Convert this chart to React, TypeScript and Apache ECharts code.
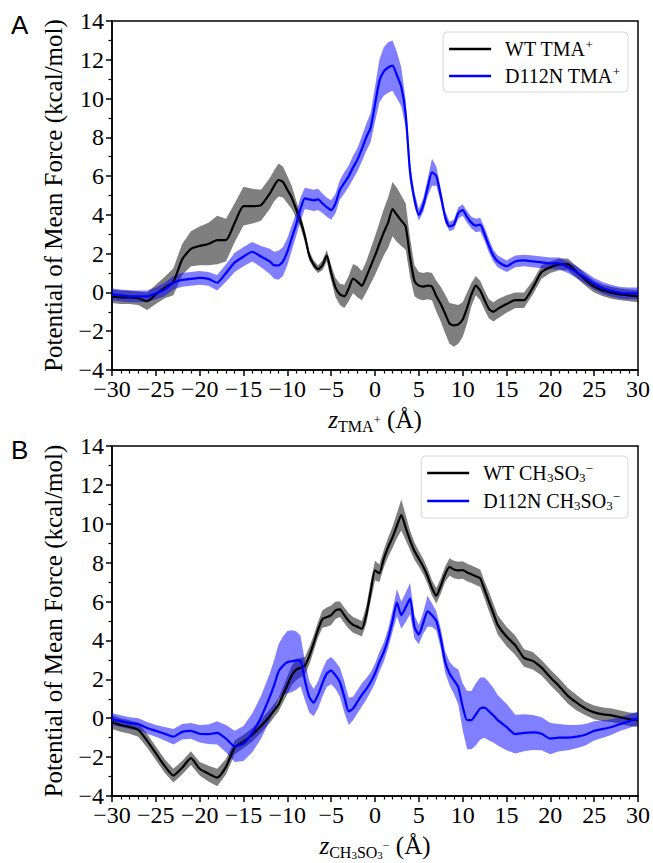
import React, { useEffect, useRef } from 'react';
import * as echarts from 'echarts';

// reaction coordinate z (Å), shared by all curves
const zGrid = [
  -30, -29, -28, -27, -26, -25, -24, -23, -22, -21, -20, -19, -18, -17, -16, -15, -14, -13,
  -12, -11.5, -11, -10.5, -10, -9.5, -9, -8.5, -8, -7.5, -7, -6.5, -6, -5.5, -5, -4.5, -4, -3.5, -3, -2.5, -2, -1.5, -1, -0.5,
  0, 0.5, 1, 1.5, 2, 2.5, 3, 3.5, 4, 4.5, 5, 5.5, 6, 6.5, 7, 7.5, 8, 8.5, 9, 9.5, 10, 10.5, 11, 11.5, 12, 12.5, 13, 13.5, 14,
  15, 16, 17, 18, 19, 20, 21, 22, 23, 24, 25, 26, 27, 28, 29, 30,
];

// Panel A: WT TMA+
const wtTmaPmf = [
  -0.2, -0.25, -0.25, -0.3, -0.45, -0.1, 0.25, 0.55, 1.7, 2.25, 2.4, 2.5, 2.7, 2.7, 3.6, 4.45, 4.45, 4.5,
  5.1, 5.5, 5.8, 5.7, 5.3, 4.9, 4.3, 3.7, 2.9, 1.9, 1.45, 1.2, 1.4, 1.9, 1.0, 0.25, -0.1, -0.2, 0.2, 0.72, 0.55, 0.35, 0.8, 1.35,
  1.9, 2.5, 3.1, 3.6, 4.3, 4.0, 3.7, 3.4, 1.8, 0.6, 0.35, 0.3, 0.35, 0.3, -0.2, -0.6, -1.1, -1.6, -1.7, -1.65, -1.4, -0.8, -0.1, 0.35, 0.1, -0.4, -0.85, -1.0, -0.85,
  -0.6, -0.4, -0.4, 0.25, 1.05, 1.3, 1.45, 1.45, 1.05, 0.65, 0.3, 0.1, -0.02, -0.1, -0.15, -0.2,
];
const wtTmaErr = [
  0.35, 0.35, 0.35, 0.35, 0.45, 0.5, 0.55, 0.7, 0.8, 0.9, 1.0, 1.1, 1.25, 1.1, 1.0, 1.0, 0.9, 0.8,
  0.8, 0.8, 0.85, 0.8, 0.7, 0.6, 0.45, 0.35, 0.3, 0.25, 0.2, 0.2, 0.25, 0.3, 0.4, 0.5, 0.55, 0.6, 0.65, 0.75, 0.8, 0.75, 0.8, 0.9,
  1.0, 1.1, 1.2, 1.3, 1.4, 1.4, 1.3, 1.2, 1.0, 0.8, 0.7, 0.7, 0.7, 0.7, 0.8, 0.9, 1.0, 1.05, 1.1, 1.0, 0.9, 0.8, 0.6, 0.5, 0.5, 0.5, 0.5, 0.5, 0.5,
  0.45, 0.4, 0.4, 0.35, 0.35, 0.3, 0.3, 0.3, 0.3, 0.3, 0.3, 0.3, 0.3, 0.3, 0.3, 0.3,
];

// Panel A: D112N TMA+
const mutTmaPmf = [
  -0.1, -0.15, -0.2, -0.2, -0.2, -0.05, 0.15, 0.5, 0.65, 0.7, 0.75, 0.7, 0.5, 1.0, 1.55, 1.85, 2.1, 1.85,
  1.6, 1.4, 1.4, 1.6, 2.1, 2.8, 3.5, 4.3, 4.85, 4.8, 4.75, 4.8, 4.6, 4.4, 4.25, 4.6, 5.3, 5.65, 6.0, 6.45, 6.85, 7.4, 8.0, 8.5,
  9.7, 10.9, 11.4, 11.6, 11.7, 11.2, 10.6, 9.2, 6.2, 4.8, 4.0, 4.5, 5.4, 6.2, 6.0, 5.0, 3.9, 3.4, 3.5, 4.1, 4.25, 3.9, 3.6, 3.45, 3.5, 3.0, 2.4, 1.9, 1.6,
  1.35, 1.6, 1.65, 1.6, 1.55, 1.5, 1.5, 1.3, 1.05, 0.75, 0.45, 0.22, 0.08, -0.02, -0.05, -0.05,
];
const mutTmaErr = [
  0.3, 0.3, 0.3, 0.3, 0.3, 0.3, 0.35, 0.35, 0.35, 0.35, 0.35, 0.35, 0.4, 0.45, 0.5, 0.5, 0.5, 0.55,
  0.65, 0.7, 0.75, 0.75, 0.7, 0.65, 0.6, 0.6, 0.55, 0.55, 0.55, 0.55, 0.5, 0.5, 0.5, 0.5, 0.5, 0.55, 0.55, 0.6, 0.6, 0.65, 0.7, 0.75,
  0.9, 1.1, 1.25, 1.3, 1.3, 1.2, 1.0, 0.7, 0.45, 0.35, 0.3, 0.35, 0.45, 0.7, 0.5, 0.35, 0.3, 0.25, 0.25, 0.3, 0.3, 0.3, 0.3, 0.35, 0.35, 0.35, 0.35, 0.3, 0.3,
  0.3, 0.3, 0.3, 0.3, 0.3, 0.3, 0.3, 0.3, 0.3, 0.3, 0.3, 0.3, 0.3, 0.3, 0.3, 0.3,
];

// Panel B: WT CH3SO3-
const wtMesPmf = [
  -0.2, -0.35, -0.45, -0.6, -1.15, -1.8, -2.45, -2.95, -2.55, -2.05, -2.6, -2.85, -3.05, -2.5, -1.5, -1.2, -0.85, -0.4,
  0.1, 0.4, 0.7, 1.2, 1.7, 2.2, 2.5, 2.6, 2.7, 3.2, 3.85, 4.55, 5.1, 5.2, 5.3, 5.55, 5.6, 5.3, 5.0, 4.8, 4.7, 4.6, 5.3, 6.5,
  7.6, 7.45, 8.2, 8.8, 9.3, 9.9, 10.45, 9.8, 9.15, 8.6, 8.2, 7.8, 7.3, 6.7, 6.3, 6.8, 7.4, 7.78, 7.65, 7.6, 7.62, 7.5, 7.4, 7.3, 7.2, 6.6, 6.0, 5.4, 4.8,
  4.2, 3.75, 3.1, 2.95, 2.6, 2.1, 1.65, 1.15, 0.8, 0.5, 0.3, 0.2, 0.15, 0.05, -0.05, -0.1,
];
const wtMesErr = [
  0.35, 0.35, 0.35, 0.35, 0.35, 0.35, 0.35, 0.35, 0.35, 0.35, 0.35, 0.4, 0.45, 0.4, 0.35, 0.35, 0.35, 0.35,
  0.35, 0.35, 0.35, 0.4, 0.45, 0.5, 0.55, 0.5, 0.45, 0.45, 0.4, 0.4, 0.45, 0.5, 0.5, 0.45, 0.4, 0.4, 0.4, 0.4, 0.4, 0.4, 0.45, 0.5,
  0.5, 0.45, 0.45, 0.5, 0.55, 0.65, 0.8, 0.65, 0.5, 0.45, 0.4, 0.4, 0.4, 0.4, 0.4, 0.4, 0.4, 0.45, 0.45, 0.45, 0.45, 0.45, 0.45, 0.45, 0.45, 0.45, 0.5, 0.5, 0.5,
  0.5, 0.5, 0.45, 0.45, 0.4, 0.4, 0.4, 0.4, 0.4, 0.35, 0.35, 0.35, 0.35, 0.35, 0.35, 0.35,
];

// Panel B: D112N CH3SO3-
const mutMesPmf = [
  -0.05, -0.15, -0.25, -0.3, -0.5, -0.65, -0.8, -0.95, -0.7, -0.65, -0.8, -0.82, -0.75, -1.05, -1.45, -1.3, -0.75, 0.05,
  1.1, 1.7, 2.4, 2.7, 2.88, 2.93, 2.97, 2.95, 1.95, 1.1, 0.8, 1.2, 1.8, 2.3, 2.45, 2.2, 1.85, 1.1, 0.35, 0.5, 0.85, 1.2, 1.5, 1.85,
  2.3, 2.9, 3.4, 4.1, 5.0, 5.95, 5.3, 5.7, 6.15, 4.7, 4.3, 4.9, 5.5, 5.3, 5.0, 4.1, 2.9, 2.3, 1.95, 1.6, 0.6, -0.1, -0.1, 0.2, 0.5, 0.55, 0.35, 0.15, -0.1,
  -0.45, -0.82, -0.75, -0.73, -0.8, -1.05, -1.0, -1.0, -0.95, -0.85, -0.65, -0.55, -0.45, -0.3, -0.15, 0.0,
];
const mutMesErr = [
  0.3, 0.3, 0.3, 0.3, 0.3, 0.3, 0.35, 0.4, 0.4, 0.4, 0.45, 0.5, 0.6, 0.7, 0.8, 0.9, 1.0, 1.1,
  1.2, 1.3, 1.4, 1.5, 1.6, 1.6, 1.5, 1.3, 1.0, 0.8, 0.7, 0.7, 0.7, 0.7, 0.7, 0.7, 0.75, 0.8, 0.7, 0.6, 0.6, 0.6, 0.55, 0.5,
  0.5, 0.5, 0.5, 0.5, 0.55, 0.7, 0.7, 0.75, 0.8, 0.6, 0.5, 0.55, 0.8, 0.6, 0.5, 0.5, 0.55, 0.6, 0.7, 0.9, 1.2, 1.5, 1.5, 1.6, 1.6, 1.55, 1.5, 1.4, 1.3,
  1.2, 1.0, 0.95, 0.9, 0.85, 0.8, 0.7, 0.65, 0.6, 0.55, 0.5, 0.45, 0.4, 0.35, 0.35, 0.35,
];

const seriesNames = ['WT TMA+', 'D112N TMA+', 'WT CH3SO3-', 'D112N CH3SO3-'];
const legendRich: Record<string, string> = {
  'WT TMA+': '{a|WT TMA}{p|+}',
  'D112N TMA+': '{a|D112N TMA}{p|+}',
  'WT CH3SO3-': '{a|WT CH}{s|3}{t|SO}{s|3}{p|−}',
  'D112N CH3SO3-': '{a|D112N CH}{s|3}{t|SO}{s|3}{p|−}',
};
const xNameA = '{z|z}{s|TMA}{p|+}{n| (Å)}';
const xNameB = '{z|z}{s|CH}{ss|3}{s|SO}{ss|3}{sm|−}{n| (Å)}';
const yName = 'Potential of Mean Force (kcal/mol)';

const SERIF = 'Liberation Serif';
const SANS = 'Liberation Sans';

const fmtTick = (v: number) => '{v|' + (v < 0 ? '\u2212' + Math.abs(v) : String(v)) + '}';

function band(xs: number[], ys: number[], es: number[], color: string, idx: number) {
  const data = xs.map((x, i) => [x, ys[i] - es[i], ys[i] + es[i]]);
  return {
    type: 'custom',
    xAxisIndex: idx,
    yAxisIndex: idx,
    silent: true,
    z: 1,
    data,
    encode: { x: 0, y: [1, 2] },
    renderItem: (params: any, api: any) => {
      if (params.dataIndex !== 0) return null;
      const top = data.map((d) => api.coord([d[0], d[2]]));
      const bot = data.map((d) => api.coord([d[0], d[1]])).reverse();
      return { type: 'polygon', shape: { points: top.concat(bot) }, style: { fill: color } };
    },
  };
}

function curve(name: string, xs: number[], ys: number[], color: string, idx: number) {
  return {
    type: 'line',
    name,
    xAxisIndex: idx,
    yAxisIndex: idx,
    z: 3,
    symbol: 'none',
    showSymbol: false,
    smooth: 0.2,
    data: xs.map((x, i) => [x, ys[i]]),
    lineStyle: { color, width: 2.2 },
    itemStyle: { color },
  };
}

const tickLabel = {
  color: '#000',
  fontFamily: SERIF,
  fontSize: 24,
  formatter: fmtTick,
  rich: {
    v: { fontFamily: SERIF, fontSize: 24, lineHeight: 16, color: '#000' },
  },
};

function xAxis(idx: number, name: string) {
  return {
    type: 'value',
    gridIndex: idx,
    min: -30,
    max: 30,
    interval: 5,
    axisLine: { show: true, onZero: false, lineStyle: { color: '#000', width: 1.5 } },
    axisTick: { show: true, length: 6, lineStyle: { color: '#000', width: 1.5 } },
    minorTick: { show: true, splitNumber: 5, length: 3.5, lineStyle: { color: '#000', width: 1.2 } },
    splitLine: { show: false },
    axisLabel: { ...tickLabel, margin: 11 },
    name,
    nameLocation: 'middle',
    nameGap: 34,
    nameTextStyle: {
      color: '#000',
      fontFamily: SERIF,
      rich: {
        z: { fontFamily: SERIF, fontSize: 25, fontStyle: 'italic', lineHeight: 30, color: '#000' },
        s: { fontFamily: SERIF, fontSize: 16, lineHeight: 18, verticalAlign: 'bottom', color: '#000' },
        ss: { fontFamily: SERIF, fontSize: 11, lineHeight: 12, verticalAlign: 'bottom', color: '#000' },
        sm: { fontFamily: SERIF, fontSize: 12, lineHeight: 30, color: '#000' },
        p: { fontFamily: SERIF, fontSize: 13, lineHeight: 30, color: '#000' },
        n: { fontFamily: SERIF, fontSize: 25, lineHeight: 30, color: '#000' },
      },
    },
  };
}

function yAxis(idx: number) {
  return {
    type: 'value',
    gridIndex: idx,
    min: -4,
    max: 14,
    interval: 2,
    axisLine: { show: true, onZero: false, lineStyle: { color: '#000', width: 1.5 } },
    axisTick: { show: true, length: 6, lineStyle: { color: '#000', width: 1.5 } },
    minorTick: { show: true, splitNumber: 2, length: 3.5, lineStyle: { color: '#000', width: 1.2 } },
    splitLine: { show: false },
    axisLabel: { ...tickLabel, margin: 8 },
    name: yName,
    nameLocation: 'middle',
    nameGap: 46,
    nameTextStyle: { color: '#000', fontFamily: SERIF, fontSize: 25 },
  };
}

function legend(names: string[], top: number) {
  return {
    data: names.map((n) => ({ name: n, icon: 'rect' })),
    orient: 'vertical',
    right: 25,
    top,
    itemWidth: 42,
    itemHeight: 2.6,
    itemGap: 6,
    padding: [6, 8, 6, 6],
    backgroundColor: '#fff',
    borderColor: '#d6d6d6',
    borderWidth: 1,
    borderRadius: 4,
    selectedMode: false,
    formatter: (n: string) => legendRich[n] || n,
    textStyle: {
      color: '#000',
      fontFamily: SERIF,
      fontSize: 20,
      rich: {
        a: { fontFamily: SERIF, fontSize: 20, lineHeight: 22, padding: [0, 0, 0, 9], color: '#000' },
        t: { fontFamily: SERIF, fontSize: 20, lineHeight: 22, color: '#000' },
        p: { fontFamily: SERIF, fontSize: 13, lineHeight: 12, verticalAlign: 'top', color: '#000' },
        s: { fontFamily: SERIF, fontSize: 13, lineHeight: 12, verticalAlign: 'bottom', color: '#000' },
      },
    },
  };
}

export default function App() {
  const ref = useRef<HTMLDivElement>(null);
  useEffect(() => {
    if (!ref.current) return;
    const chart = echarts.init(ref.current, undefined, { renderer: 'svg' });
    const BAND_K = 'rgba(0,0,0,0.5)';
    const BAND_B = 'rgba(0,0,255,0.5)';
    chart.setOption({
      animation: false,
      backgroundColor: '#fff',
      textStyle: { fontFamily: SERIF, color: '#000' },
      grid: [
        { left: 112, top: 21, width: 526, height: 349, show: true, borderColor: '#000', borderWidth: 1.5, backgroundColor: 'transparent' },
        { left: 112, top: 446, width: 526, height: 350, show: true, borderColor: '#000', borderWidth: 1.5, backgroundColor: 'transparent' },
      ],
      xAxis: [xAxis(0, xNameA), xAxis(1, xNameB)],
      yAxis: [yAxis(0), yAxis(1)],
      legend: [legend([seriesNames[0], seriesNames[1]], 32), legend([seriesNames[2], seriesNames[3]], 456)],
      series: [
        band(zGrid, wtTmaPmf, wtTmaErr, BAND_K, 0),
        band(zGrid, mutTmaPmf, mutTmaErr, BAND_B, 0),
        curve(seriesNames[0], zGrid, wtTmaPmf, '#000000', 0),
        curve(seriesNames[1], zGrid, mutTmaPmf, '#0000ff', 0),
        band(zGrid, wtMesPmf, wtMesErr, BAND_K, 1),
        band(zGrid, mutMesPmf, mutMesErr, BAND_B, 1),
        curve(seriesNames[2], zGrid, wtMesPmf, '#000000', 1),
        curve(seriesNames[3], zGrid, mutMesPmf, '#0000ff', 1),
      ],
      graphic: [
        { type: 'text', left: 11, top: 12, style: { text: 'A', fontFamily: SANS, fontSize: 26, fill: '#000' } },
        { type: 'text', left: 11, top: 437, style: { text: 'B', fontFamily: SANS, fontSize: 26, fill: '#000' } },
      ],
    });
    return () => chart.dispose();
  }, []);
  return <div ref={ref} style={{ position: 'absolute', left: 0, top: 0, width: 653, height: 863, background: '#fff' }} />;
}
